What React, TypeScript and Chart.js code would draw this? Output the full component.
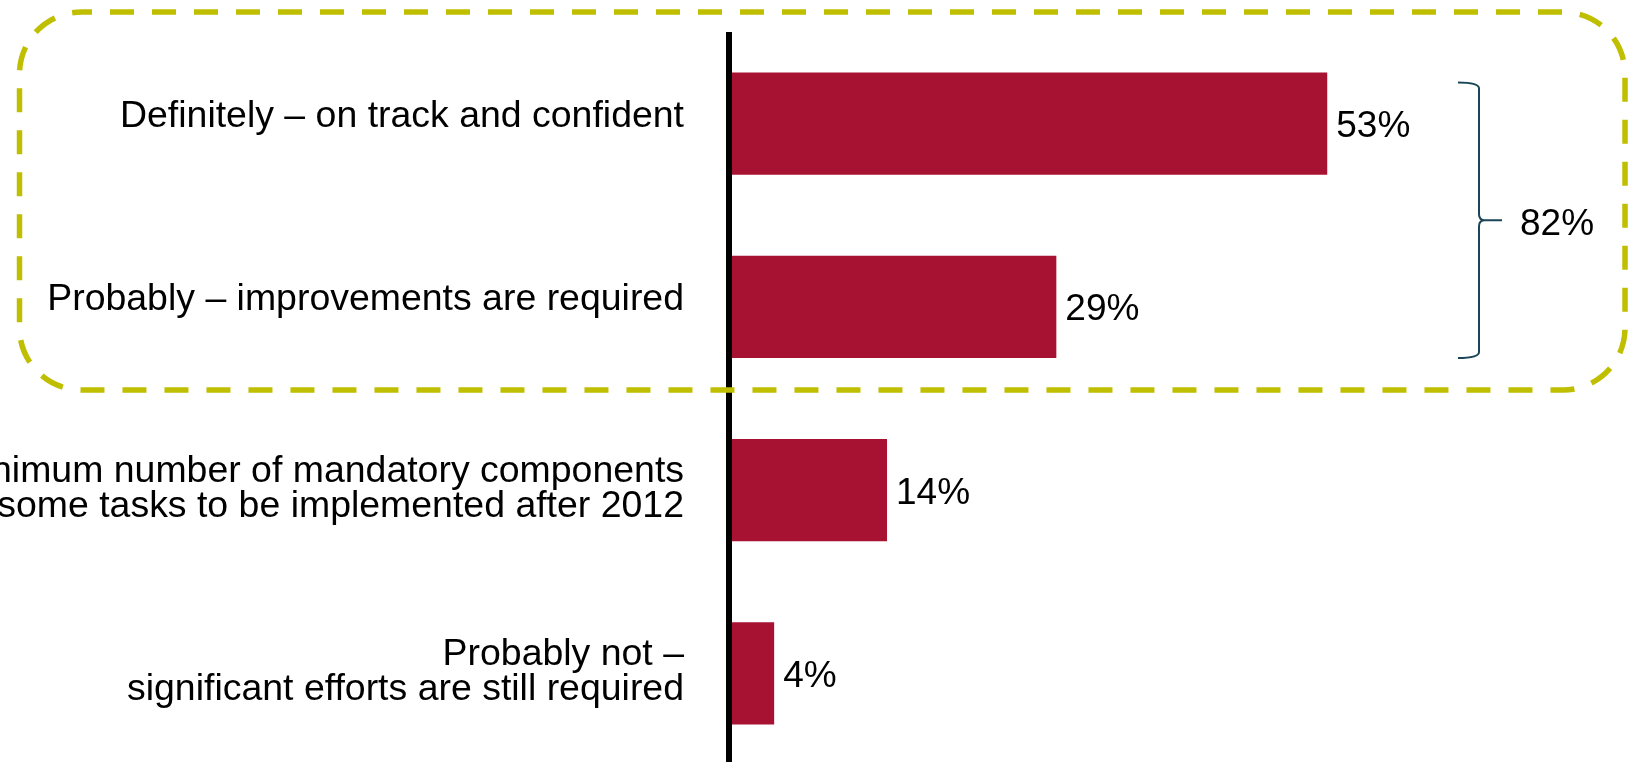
import React, { useEffect, useRef } from "react";
import { Chart, registerables } from "chart.js";

Chart.register(...registerables);

const categories: string[][] = [
  ["Definitely – on track and confident"],
  ["Probably – improvements are required"],
  ["minimum number of mandatory components", "some tasks to be implemented after 2012"],
  ["Probably not –", "significant efforts are still required"],
];
const values: number[] = [53, 29, 14, 4];
const groupedIdx: number[] = [0, 1];

const BAR_COLOR = "#A81232";
const BOX_COLOR = "#BFBF00";
const BRACE_COLOR = "#1A4657";
const LABEL_FONT = '36px "Liberation Sans", Arial, sans-serif';
const VALUE_FONT = '37px "Liberation Sans", Arial, sans-serif';

const overlay = {
  id: "overlay",
  afterDatasetsDraw(chart: any) {
    const ctx = chart.ctx as CanvasRenderingContext2D;
    const area = chart.chartArea;
    const meta = chart.getDatasetMeta(0);
    const yScale = chart.scales.y;
    ctx.save();

    // category labels
    ctx.font = LABEL_FONT;
    ctx.fillStyle = "#000";
    ctx.textAlign = "right";
    ctx.textBaseline = "alphabetic";
    categories.forEach((lines, i) => {
      const c = yScale.getPixelForValue(i);
      const first = lines.length === 1 ? c + 3 : c - 8.4;
      lines.forEach((t, k) => {
        ctx.save();
        ctx.translate(area.left - 45, first + k * 35.5);
        ctx.scale(1.04, 1);
        ctx.fillText(t, 0, 0);
        ctx.restore();
      });
    });

    // value labels
    ctx.font = VALUE_FONT;
    ctx.textAlign = "left";
    meta.data.forEach((bar: any, i: number) => {
      ctx.fillText(values[i] + "%", bar.x + 9, bar.y + 13.5);
    });

    // axis line
    ctx.strokeStyle = "#000";
    ctx.lineWidth = 6;
    ctx.beginPath();
    ctx.moveTo(area.left, area.top);
    ctx.lineTo(area.left, chart.height);
    ctx.stroke();

    // brace
    const b0 = meta.data[groupedIdx[0]] as any;
    const b1 = meta.data[groupedIdx[groupedIdx.length - 1]] as any;
    const top = b0.y - b0.height / 2 + 10;
    const bottom = b1.y + b1.height / 2;
    const mid = (top + bottom) / 2;
    const bx = 1479;
    ctx.strokeStyle = BRACE_COLOR;
    ctx.lineWidth = 2;
    ctx.beginPath();
    ctx.moveTo(bx - 21, top);
    ctx.quadraticCurveTo(bx, top, bx, top + 6);
    ctx.lineTo(bx, mid - 6);
    ctx.quadraticCurveTo(bx, mid, bx + 6, mid);
    ctx.lineTo(bx + 23, mid);
    ctx.moveTo(bx + 6, mid);
    ctx.quadraticCurveTo(bx, mid, bx, mid + 6);
    ctx.lineTo(bx, bottom - 6);
    ctx.quadraticCurveTo(bx, bottom, bx - 21, bottom);
    ctx.stroke();
    const sum = groupedIdx.reduce((s, i) => s + values[i], 0);
    ctx.fillStyle = "#000";
    ctx.fillText(sum + "%", bx + 41, mid + 15);

    // dashed rounded box
    ctx.strokeStyle = BOX_COLOR;
    ctx.lineWidth = 5.5;
    ctx.setLineDash([24, 18]);
    ctx.lineDashOffset = 13.5;
    ctx.beginPath();
    (ctx as any).roundRect(19.5, 12, 1605.5, 378, 62);
    ctx.stroke();

    ctx.restore();
  },
};

export default function App() {
  const ref = useRef<HTMLCanvasElement>(null);
  useEffect(() => {
    document.body.style.margin = "0";
    document.body.style.overflow = "hidden";
    const chart = new Chart(ref.current!, {
      type: "bar",
      data: {
        labels: categories.map((l) => l.join(" ")),
        datasets: [
          {
            data: values,
            backgroundColor: BAR_COLOR,
            borderWidth: 0,
            barPercentage: 0.557,
            categoryPercentage: 1,
          },
        ],
      },
      options: {
        indexAxis: "y",
        animation: false,
        responsive: false,
        maintainAspectRatio: false,
        layout: { padding: { left: 729, top: 32, right: 0, bottom: 0 } },
        plugins: { legend: { display: false }, tooltip: { enabled: false } },
        scales: {
          x: { display: false, min: 0, max: 80 },
          y: { display: false },
        },
      },
      plugins: [overlay],
    });
    return () => chart.destroy();
  }, []);
  return (
    <div style={{ width: 1632, height: 762, overflow: "hidden" }}>
      <canvas ref={ref} width={1632} height={765} style={{ display: "block" }} />
    </div>
  );
}
